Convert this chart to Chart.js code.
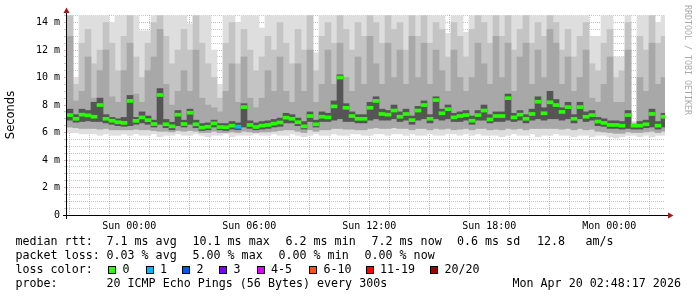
<!DOCTYPE html>
<html>
<head>
<meta charset="utf-8">
<title>SmokePing latency</title>
<script src="https://cdn.jsdelivr.net/npm/chart.js@4.4.1/dist/chart.umd.min.js"></script>
<style>
    body { margin: 0; background: #fff; }
    #wrap { position: relative; width: 697px; height: 297px; background: #fff; overflow: hidden; }
    #chart { position: absolute; left: 0; top: 0; }
    .txt { position: absolute; font-family: 'DejaVu Sans Mono', monospace; font-size: 11.66px; line-height: 14px; color: #000; white-space: pre; }
    .box { position: absolute; width: 8px; height: 8px; box-sizing: border-box; border: 1px solid #000; }
    #credit { position: absolute; left: 683px; top: 5px; font-family: 'DejaVu Sans Mono', monospace; font-size: 8.3px; line-height: 10px; color: #aaa; writing-mode: vertical-rl; white-space: pre; }
</style>
</head>
<body>
<div id="wrap">
    <canvas id="chart" width="697" height="297"></canvas>
    <div id="credit">RRDTOOL / TOBI OETIKER</div>
</div>
<script>
// ============================================
// SMOKEPING GRAPH - 30 hours of ICMP pings
// ============================================

// Time axis: hours relative to Sun 00:00, one column = 0.3 h
var startHour = -3.115;
var endHour = 26.785;
var stepHours = 0.3;
var dayTicks = [0, 6, 12, 18, 24];
var dayLabels = ['Sun 00:00', 'Sun 06:00', 'Sun 12:00', 'Sun 18:00', 'Mon 00:00'];

// Median rtt per column (ms)
var median = [7.27, 7.0, 7.3, 7.25, 7.15, 8.0, 7.0, 6.86, 6.75, 6.7,
    8.3, 6.85, 7.1, 6.9, 6.62, 8.73, 6.6, 6.45, 7.3, 6.62,
    7.44, 6.6, 6.36, 6.42, 6.67, 6.4, 6.38, 6.5, 6.42, 7.85,
    6.55, 6.4, 6.5, 6.55, 6.65, 6.73, 7.08, 7.0, 6.75, 6.45,
    7.2, 6.6, 7.15, 7.1, 7.9, 10.0, 7.8, 7.2, 7.0, 7.0,
    7.8, 8.3, 7.35, 7.3, 7.6, 7.15, 7.35, 6.9, 7.6, 8.0,
    7.0, 8.36, 7.4, 7.7, 7.1, 7.2, 7.27, 6.86, 7.27, 7.6,
    6.95, 7.2, 7.2, 8.5, 7.1, 7.3, 7.0, 7.35, 8.24, 7.4,
    8.2, 8.0, 7.5, 7.85, 7.0, 7.85, 7.15, 7.27, 6.8, 6.7,
    6.55, 6.55, 6.5, 7.27, 6.5, 6.5, 6.6, 7.35, 6.5, 7.15];

// Lost pings per column (out of 20)
var loss = [0, 0, 0, 0, 0, 0, 0, 0, 0, 0,
    0, 0, 0, 0, 0, 0, 0, 0, 0, 0,
    0, 0, 0, 0, 0, 0, 0, 0, 1, 0,
    0, 0, 0, 0, 0, 0, 0, 0, 0, 0,
    0, 0, 0, 0, 0, 0, 0, 0, 0, 0,
    0, 0, 0, 0, 0, 0, 0, 0, 0, 0,
    0, 0, 0, 0, 0, 0, 0, 0, 0, 0,
    0, 0, 0, 0, 0, 0, 0, 0, 0, 0,
    0, 0, 0, 0, 0, 0, 0, 0, 0, 0,
    0, 0, 0, 0, 0, 0, 0, 0, 0, 0];

// Smoke: outer band (min / max ping)
var smokeLo1 = [6.0, 6.0, 5.9, 5.9, 5.9, 5.8, 5.9, 5.8, 5.8, 5.9,
    5.8, 5.9, 5.8, 5.8, 5.9, 5.7, 5.8, 5.8, 5.9, 5.8,
    5.8, 5.9, 5.8, 5.7, 5.8, 5.8, 5.9, 5.7, 5.8, 5.8,
    5.8, 5.9, 5.8, 5.8, 5.9, 5.8, 5.8, 5.9, 5.8, 5.7,
    5.8, 5.9, 5.8, 5.8, 5.9, 5.8, 5.8, 5.9, 5.9, 5.8,
    5.8, 5.9, 5.9, 5.8, 5.9, 5.9, 5.8, 5.9, 5.8, 5.8,
    5.9, 5.8, 5.8, 5.9, 5.9, 5.8, 5.9, 5.8, 5.9, 5.8,
    5.8, 5.8, 5.7, 5.8, 5.9, 5.8, 5.8, 5.9, 5.7, 5.8,
    5.8, 5.9, 5.8, 5.8, 5.7, 5.8, 5.8, 5.7, 5.8, 5.8,
    5.7, 5.6, 5.7, 5.8, 5.8, 5.7, 5.8, 5.7, 5.8, 5.8];
var smokeHi1 = [14.5, 10.0, 14.5, 14.5, 14.5, 14.5, 14.5, 14.0, 14.5, 14.5,
    14.5, 14.5, 13.4, 13.4, 14.5, 14.5, 14.5, 14.5, 14.5, 14.5,
    13.9, 14.5, 14.5, 14.5, 12.0, 9.5, 14.5, 14.5, 14.0, 14.5,
    14.5, 14.5, 13.6, 14.5, 14.5, 14.5, 14.5, 14.5, 14.5, 14.5,
    14.5, 11.8, 14.5, 14.5, 14.5, 14.0, 14.5, 14.5, 14.5, 14.5,
    14.5, 14.5, 14.5, 14.5, 14.5, 14.5, 14.5, 14.5, 14.5, 14.5,
    14.5, 14.5, 14.5, 13.2, 14.5, 14.5, 13.3, 14.5, 14.5, 14.5,
    14.5, 14.5, 14.5, 14.5, 14.5, 14.5, 14.5, 14.5, 14.5, 14.5,
    14.5, 14.5, 14.5, 14.5, 14.5, 14.5, 14.5, 13.0, 13.0, 14.5,
    14.5, 11.5, 11.5, 14.5, 6.8, 14.5, 14.5, 14.5, 14.0, 14.5];

// Smoke: second and third bands
var smokeLo2 = [6.4, 6.35, 6.3, 6.3, 6.3, 6.25, 6.3, 6.2, 6.2, 6.2,
    6.2, 6.25, 6.2, 6.2, 6.15, 6.1, 6.1, 6.05, 6.15, 6.1,
    6.15, 6.1, 6.0, 6.0, 6.1, 6.0, 6.0, 6.05, 6.0, 6.1,
    6.05, 6.0, 6.05, 6.05, 6.1, 6.15, 6.2, 6.2, 6.1, 6.0,
    6.2, 6.1, 6.2, 6.2, 6.3, 6.3, 6.25, 6.25, 6.2, 6.2,
    6.3, 6.35, 6.3, 6.3, 6.35, 6.3, 6.3, 6.2, 6.3, 6.3,
    6.2, 6.3, 6.25, 6.3, 6.2, 6.25, 6.3, 6.2, 6.3, 6.3,
    6.2, 6.25, 6.2, 6.3, 6.25, 6.3, 6.2, 6.3, 6.3, 6.3,
    6.3, 6.3, 6.25, 6.3, 6.2, 6.3, 6.2, 6.25, 6.1, 6.05,
    6.0, 5.95, 5.95, 6.05, 6.0, 6.0, 6.05, 6.1, 6.0, 6.1];
var smokeHi2 = [14.5, 9.5, 12.5, 13.5, 11.0, 12.0, 14.0, 12.5, 10.5, 13.0,
    14.5, 11.5, 10.0, 12.5, 14.0, 14.5, 13.0, 11.0, 12.0, 13.5,
    12.0, 14.5, 12.5, 11.0, 10.0, 8.5, 12.5, 14.0, 11.0, 13.5,
    12.0, 10.5, 11.5, 13.0, 12.0, 14.0, 12.5, 11.0, 13.5, 12.0,
    14.5, 10.5, 13.0, 14.0, 12.5, 14.5, 13.5, 12.0, 14.0, 13.0,
    14.5, 14.0, 12.5, 14.5, 13.5, 14.0, 12.0, 14.5, 13.0, 14.5,
    12.5, 14.0, 13.5, 11.5, 14.0, 13.0, 11.5, 13.5, 14.5, 14.0,
    12.5, 14.5, 13.0, 14.5, 12.0, 13.5, 14.5, 12.5, 14.0, 13.0,
    14.5, 14.0, 12.0, 13.5, 11.5, 13.0, 14.0, 11.0, 10.5, 12.5,
    13.5, 10.0, 10.5, 14.0, 6.7, 13.0, 12.0, 14.5, 12.5, 13.0];
var smokeHi3 = [13.0, 8.3, 9.0, 11.5, 8.5, 10.5, 12.0, 8.6, 8.2, 10.5,
    12.5, 8.8, 8.2, 10.5, 11.5, 13.5, 9.5, 8.0, 9.0, 10.5,
    9.0, 12.0, 8.5, 8.0, 7.8, 7.5, 9.0, 11.0, 8.2, 11.5,
    8.5, 7.8, 8.5, 10.5, 9.0, 11.5, 9.0, 8.2, 11.0, 9.0,
    12.0, 8.2, 9.5, 12.0, 9.5, 12.5, 10.0, 9.0, 11.5, 9.5,
    13.0, 11.0, 9.5, 12.5, 10.0, 12.0, 9.5, 13.0, 10.0, 12.5,
    9.5, 12.0, 10.5, 9.0, 12.0, 10.0, 9.0, 10.0, 12.5, 11.0,
    9.5, 13.0, 10.0, 12.5, 9.0, 11.5, 12.5, 9.5, 12.0, 10.0,
    13.5, 12.5, 9.5, 11.5, 9.0, 10.0, 12.0, 8.5, 8.2, 9.5,
    11.5, 8.2, 8.2, 12.0, 6.6, 10.0, 9.0, 12.5, 9.5, 10.0];

// Smoke: inner (darkest) band around the median
var smokeLo3 = [6.9, 6.75, 6.8, 6.85, 6.8, 6.8, 6.7, 6.6, 6.5, 6.45,
    6.5, 6.6, 6.7, 6.6, 6.4, 6.6, 6.35, 6.2, 6.5, 6.4,
    6.6, 6.35, 6.15, 6.2, 6.4, 6.2, 6.15, 6.25, 6.2, 6.4,
    6.3, 6.2, 6.25, 6.3, 6.4, 6.45, 6.7, 6.7, 6.5, 6.25,
    6.8, 6.4, 6.8, 6.8, 6.9, 7.0, 6.8, 6.8, 6.7, 6.7,
    6.9, 7.0, 6.9, 6.9, 7.0, 6.8, 6.9, 6.6, 6.9, 7.0,
    6.7, 7.0, 6.9, 7.0, 6.8, 6.8, 6.9, 6.6, 6.9, 6.9,
    6.7, 6.8, 6.8, 6.9, 6.8, 6.9, 6.7, 6.9, 7.0, 6.9,
    7.0, 7.0, 6.9, 7.0, 6.7, 7.0, 6.8, 6.9, 6.5, 6.45,
    6.3, 6.3, 6.25, 6.3, 6.25, 6.25, 6.35, 6.4, 6.25, 6.4];
var smokeHi4 = [7.7, 7.3, 7.7, 7.6, 8.2, 8.5, 7.3, 7.1, 7.0, 7.1,
    8.7, 7.1, 7.5, 7.2, 6.9, 9.2, 6.95, 6.75, 7.6, 6.9,
    7.7, 6.9, 6.65, 6.7, 6.9, 6.65, 6.65, 6.8, 6.7, 8.1,
    6.85, 6.7, 6.8, 6.85, 6.95, 7.05, 7.4, 7.3, 7.05, 6.8,
    7.5, 6.9, 7.5, 7.4, 8.3, 10.2, 8.1, 7.5, 7.3, 7.3,
    8.2, 8.6, 7.7, 7.6, 8.0, 7.5, 7.7, 7.2, 7.9, 8.3,
    7.3, 8.6, 7.7, 8.0, 7.4, 7.5, 7.6, 7.2, 7.6, 8.0,
    7.3, 7.5, 7.5, 8.8, 7.4, 7.6, 7.3, 7.7, 8.6, 7.8,
    9.0, 8.4, 7.8, 8.2, 7.3, 8.2, 7.5, 7.6, 7.1, 7.0,
    6.85, 6.85, 6.8, 7.6, 6.6, 6.8, 6.9, 7.7, 6.8, 7.4];

// Loss colours (index = lost pings bucket)
var lossKeys = ['0', '1', '2', '3', '4-5', '6-10', '11-19', '20/20'];
var lossColors = ['#26ff00', '#00b8ff', '#0059ff', '#7e00ff', '#dd00ff', '#ff5500', '#ff0000', '#a10000'];
var smokeColors = ['#dedede', '#c4c4c4', '#a8a8a8', '#555555'];

// Legend text rows: [left px, text]
var legendRows = [
    { top: 234, items: [[15.5, 'median rtt:'], [106.5, '7.1 ms avg'], [192.5, '10.1 ms max'], [285.5, '6.2 ms min'], [371.5, '7.2 ms now'], [457, '0.6 ms sd'], [537, '12.8'], [585.5, 'am/s']] },
    { top: 248, items: [[15.5, 'packet loss:'], [106.5, '0.03 % avg'], [192.5, '5.00 % max'], [278.5, '0.00 % min'], [364.5, '0.00 % now']] },
    { top: 262, items: [[15.5, 'loss color:']] },
    { top: 276, items: [[15.5, 'probe:'], [106.5, '20 ICMP Echo Pings (56 Bytes) every 300s'], [512.5, 'Mon Apr 20 02:48:17 2026']] }
];
var lossBoxX = [108, 145.5, 182, 219, 256.5, 309, 365.5, 430];

// ============================================
// BUILD DATASETS
// ============================================

function colTime(i) {
    return startHour + stepHours * (i + 0.5);
}

function band(lo, hi) {
    var pts = [];
    for (var i = 0; i < hi.length; i++) {
        pts.push({ x: colTime(i), y: [lo[i], hi[i]] });
    }
    return pts;
}

function lossColor(n) {
    if (n === 0) return lossColors[0];
    if (n === 1) return lossColors[1];
    if (n === 2) return lossColors[2];
    if (n === 3) return lossColors[3];
    if (n <= 5) return lossColors[4];
    if (n <= 10) return lossColors[5];
    if (n < 20) return lossColors[6];
    return lossColors[7];
}

var medianBars = [];
var medianColors = [];
for (var i = 0; i < median.length; i++) {
    medianBars.push({ x: colTime(i), y: [median[i] - 0.11, median[i] + 0.11] });
    medianColors.push(lossColor(loss[i]));
}

function barSet(label, data, color, order) {
    return {
        label: label,
        data: data,
        backgroundColor: color,
        borderWidth: 0,
        barPercentage: 1,
        categoryPercentage: 1,
        grouped: false,
        order: order
    };
}

// Axis lines and arrows in rrdtool style
var axisArrows = {
    id: 'axisArrows',
    afterDraw: function(chart) {
        var ctx = chart.ctx;
        var a = chart.chartArea;
        ctx.save();
        ctx.fillStyle = '#000';
        ctx.fillRect(a.left - 4, a.bottom, a.right - a.left + 7, 1);
        ctx.fillRect(a.left - 1, a.top - 3, 1, a.bottom - a.top + 7);
        ctx.fillStyle = '#a01818';
        ctx.beginPath();
        ctx.moveTo(a.right + 3, a.bottom - 2.5);
        ctx.lineTo(a.right + 8.5, a.bottom + 0.5);
        ctx.lineTo(a.right + 3, a.bottom + 3.5);
        ctx.closePath();
        ctx.fill();
        ctx.beginPath();
        ctx.moveTo(a.left - 3.5, a.top - 2);
        ctx.lineTo(a.left - 0.5, a.top - 7.5);
        ctx.lineTo(a.left + 2.5, a.top - 2);
        ctx.closePath();
        ctx.fill();
        ctx.restore();
    }
};

var minorGrid = 'rgba(143,143,143,0.5)';
var majorGrid = 'rgba(222,80,80,0.5)';
var tickFont = { family: 'DejaVu Sans Mono', size: 10 };

function gridColor(every) {
    return function(c) {
        if (!c.tick) return minorGrid;
        return c.tick.value % every === 0 ? majorGrid : minorGrid;
    };
}

var ctx = document.getElementById('chart').getContext('2d');
var chart = new Chart(ctx, {
    type: 'bar',
    data: {
        datasets: [
            barSet('median', medianBars, medianColors, 0),
            barSet('smoke4', band(smokeLo3, smokeHi4), smokeColors[3], 1),
            barSet('smoke3', band(smokeLo2, smokeHi3), smokeColors[2], 2),
            barSet('smoke2', band(smokeLo2, smokeHi2), smokeColors[1], 3),
            barSet('smoke1', band(smokeLo1, smokeHi1), smokeColors[0], 4)
        ]
    },
    options: {
        responsive: false,
        animation: false,
        devicePixelRatio: 1,
        layout: { padding: { top: 15, right: 32, bottom: 62, left: 0 } },
        plugins: { legend: { display: false }, tooltip: { enabled: false } },
        scales: {
            x: {
                type: 'linear',
                min: startHour,
                max: endHour,
                offset: false,
                z: 1,
                afterFit: function(s) { s.height = 20; },
                border: { display: false, dash: [1, 1] },
                grid: {
                    offset: false,
                    drawTicks: false,
                    color: gridColor(3)
                },
                ticks: {
                    stepSize: 1,
                    includeBounds: false,
                    maxTicksLimit: 100,
                    autoSkip: false,
                    maxRotation: 0,
                    padding: 5,
                    color: '#000',
                    font: tickFont,
                    callback: function(v) {
                        var k = dayTicks.indexOf(v);
                        return k >= 0 ? dayLabels[k] : '';
                    }
                }
            },
            y: {
                min: 0,
                max: 14.55,
                z: 1,
                afterFit: function(s) { s.width = 67; },
                border: { display: false, dash: [1, 1] },
                grid: {
                    tickLength: 3,
                    color: gridColor(2)
                },
                title: {
                    display: true,
                    text: 'Seconds',
                    color: '#000',
                    font: { family: 'DejaVu Sans', size: 11.5 },
                    padding: { top: 4, bottom: 0 }
                },
                ticks: {
                    stepSize: 0.5,
                    includeBounds: false,
                    maxTicksLimit: 100,
                    autoSkip: false,
                    padding: 4,
                    color: '#000',
                    font: tickFont,
                    callback: function(v) {
                        if (v % 2 !== 0) return '';
                        return v === 0 ? '0' : v + ' m';
                    }
                }
            }
        }
    },
    plugins: [axisArrows]
});

// ============================================
// LEGEND TEXT (below the graph)
// ============================================
var wrap = document.getElementById('wrap');

function addText(x, y, text) {
    var el = document.createElement('div');
    el.className = 'txt';
    el.style.left = x + 'px';
    el.style.top = y + 'px';
    el.textContent = text;
    wrap.appendChild(el);
}

for (var r = 0; r < legendRows.length; r++) {
    for (var j = 0; j < legendRows[r].items.length; j++) {
        addText(legendRows[r].items[j][0], legendRows[r].top, legendRows[r].items[j][1]);
    }
}

for (var b = 0; b < lossKeys.length; b++) {
    var box = document.createElement('div');
    box.className = 'box';
    box.style.left = lossBoxX[b] + 'px';
    box.style.top = '265.5px';
    box.style.background = lossColors[b];
    wrap.appendChild(box);
    addText(lossBoxX[b] + 14.5, 262, lossKeys[b]);
}
</script>
</body>
</html>
